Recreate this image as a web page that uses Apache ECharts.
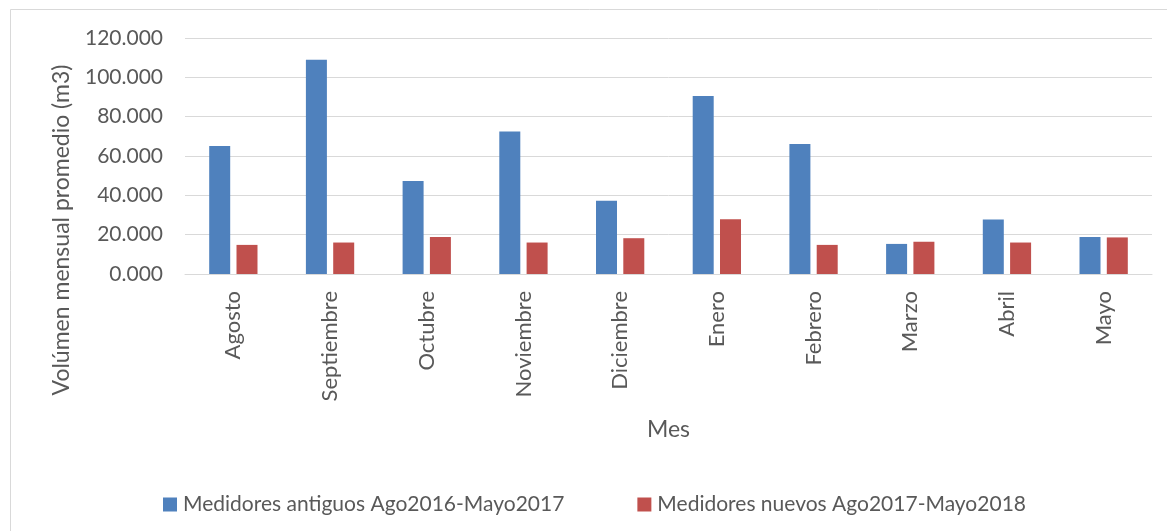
<!DOCTYPE html>
<html>
<head>
<meta charset="utf-8">
<script src="https://cdn.jsdelivr.net/npm/echarts@6/dist/echarts.min.js"></script>
<style>
  html, body { margin: 0; padding: 0; background: #fff; }
  #chart { width: 1167px; height: 531px; }
</style>
</head>
<body>
<div id="chart"></div>
<script>
// Monthly average volume (m3), old vs new meters
const months = ['Agosto', 'Septiembre', 'Octubre', 'Noviembre', 'Diciembre', 'Enero', 'Febrero', 'Marzo', 'Abril', 'Mayo'];
const medidoresAntiguos = [65.1, 108.9, 47.3, 72.5, 37.2, 90.5, 66.1, 15.3, 27.7, 18.8];
const medidoresNuevos = [14.8, 16.0, 18.8, 16.0, 18.2, 27.9, 14.8, 16.4, 16.0, 18.6];
const serieAntiguos = 'Medidores antiguos Ago2016-Mayo2017';
const serieNuevos = 'Medidores nuevos Ago2017-Mayo2018';
const yTitle = 'Volúmen mensual promedio (m3)';
const xTitle = 'Mes';

const FONT = 'Lato, "Open Sans", sans-serif';
const TEXT = '#595959';
const GRID = '#d9d9d9';

const chart = echarts.init(document.getElementById('chart'));
chart.setOption({
  backgroundColor: '#fff',
  animation: false,
  textStyle: { fontFamily: FONT, color: TEXT },
  color: ['#4F81BD', '#C0504D'],
  grid: { left: 185, right: 15, top: 38, bottom: 257, containLabel: false, outerBoundsMode: 'none' },
  legend: {
    left: 158,
    top: 489,
    icon: 'rect',
    itemWidth: 14,
    itemHeight: 14,
    itemGap: 73,
    textStyle: { fontFamily: FONT, fontSize: 21, color: TEXT, padding: [0, 0, 0, 1] },
    data: [serieAntiguos, serieNuevos]
  },
  graphic: [
    {
      type: 'rect',
      shape: { x: 10.5, y: 9.5, width: 1300, height: 700 },
      style: { fill: 'none', stroke: GRID, lineWidth: 1 },
      silent: true
    },
    {
      type: 'text',
      x: 62,
      y: 230,
      rotation: Math.PI / 2,
      style: {
        text: yTitle,
        fontFamily: FONT,
        fontSize: 23,
        fill: TEXT,
        align: 'center',
        verticalAlign: 'middle'
      }
    }
  ],
  xAxis: {
    type: 'category',
    data: months,
    name: xTitle,
    nameLocation: 'middle',
    nameGap: 144,
    nameTextStyle: { fontFamily: FONT, fontSize: 23, color: TEXT },
    axisLine: { show: true, lineStyle: { color: GRID, width: 1 } },
    axisTick: { show: false },
    axisLabel: { rotate: 90, margin: 17, fontFamily: FONT, fontSize: 22, color: TEXT },
    splitLine: { show: false }
  },
  yAxis: {
    type: 'value',
    min: 0,
    max: 120,
    interval: 20,
    axisLine: { show: false },
    axisTick: { show: false },
    axisLabel: {
      margin: 22,
      fontFamily: FONT,
      fontSize: 21,
      color: TEXT,
      formatter: v => v.toFixed(3)
    },
    splitLine: { lineStyle: { color: GRID, width: 1 } }
  },
  series: [
    {
      name: serieAntiguos,
      type: 'bar',
      data: medidoresAntiguos,
      barWidth: 21,
      barGap: '30%',
      itemStyle: { color: '#4F81BD' }
    },
    {
      name: serieNuevos,
      type: 'bar',
      data: medidoresNuevos,
      barWidth: 21,
      barGap: '30%',
      itemStyle: { color: '#C0504D' }
    }
  ]
});
</script>
</body>
</html>
